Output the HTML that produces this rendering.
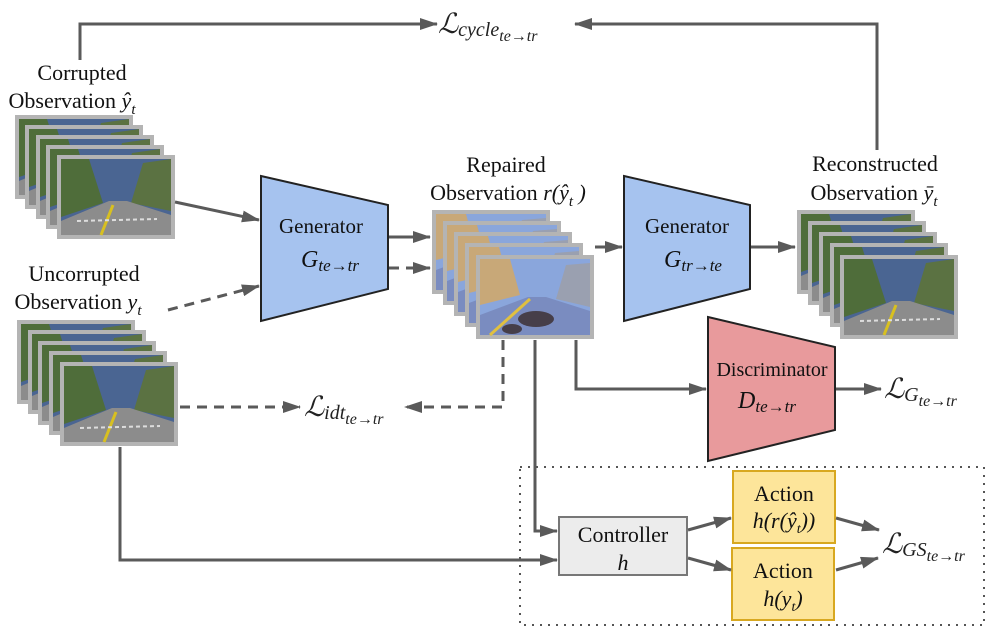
<!DOCTYPE html>
<html><head><style>
html,body{margin:0;padding:0;background:#fff;}
svg, svg text{font-family:"Liberation Serif","Times New Roman",serif;}
</style></head><body>
<svg width="987" height="637" viewBox="0 0 987 637" xmlns="http://www.w3.org/2000/svg" font-family="Liberation Serif, serif">
<defs>
<g id="fn">
<rect x="0" y="0" width="118" height="84" fill="#b4b4b4"/>
<rect x="4" y="4" width="110" height="76" fill="#4a6592"/>
<polygon points="4,4 32,4 46,48 4,62" fill="#4f6d3a"/>
<polygon points="114,4 86,8 74,48 114,56" fill="#5b7242"/>
<polygon points="4,80 114,80 114,60 70,46 52,46 4,66" fill="#8c8c8c"/>
<line x1="44" y1="80" x2="56" y2="50" stroke="#d8c020" stroke-width="3"/>
<line x1="20" y1="66" x2="100" y2="64" stroke="#ddd" stroke-width="2" stroke-dasharray="4 3"/>
</g>
<g id="fr">
<rect x="0" y="0" width="118" height="84" fill="#b4b4b4"/>
<rect x="4" y="4" width="110" height="76" fill="#8aa6dc"/>
<polygon points="4,4 34,4 44,40 4,50" fill="#c8a878"/>
<polygon points="114,8 90,10 80,44 114,52" fill="#9aa0b0"/>
<polygon points="4,80 114,80 114,56 70,42 52,42 4,60" fill="#7a8cc0"/>
<line x1="14" y1="80" x2="54" y2="44" stroke="#e0c040" stroke-width="3"/>
<ellipse cx="60" cy="64" rx="18" ry="8" fill="#3a2a2a" opacity="0.8"/>
<ellipse cx="36" cy="74" rx="10" ry="5" fill="#3a2a2a" opacity="0.8"/>
</g>
<marker id="ah2" markerWidth="18" markerHeight="12" refX="17" refY="6" orient="auto" markerUnits="userSpaceOnUse">
<path d="M0,0 L18,6 L0,12 z" fill="#5a5a5a"/>
</marker>
</defs>

<use href="#fn" x="15" y="115"/><use href="#fn" x="25" y="125"/><use href="#fn" x="36" y="135"/><use href="#fn" x="46" y="145"/><use href="#fn" x="57" y="155"/>
<use href="#fn" x="17" y="320"/><use href="#fn" x="28" y="330"/><use href="#fn" x="38" y="341"/><use href="#fn" x="49" y="351"/><use href="#fn" x="60" y="362"/>
<use href="#fr" x="432" y="210"/><use href="#fr" x="443" y="221"/><use href="#fr" x="454" y="232"/><use href="#fr" x="465" y="243"/><use href="#fr" x="476" y="255"/>
<use href="#fn" x="797" y="210"/><use href="#fn" x="808" y="221"/><use href="#fn" x="819" y="232"/><use href="#fn" x="830" y="243"/><use href="#fn" x="840" y="255"/>

<polygon points="261,176 388,205 388,289 261,321" fill="#a6c3ef" stroke="#222" stroke-width="2"/>
<polygon points="624,176 750,205 750,289 624,321" fill="#a6c3ef" stroke="#222" stroke-width="2"/>
<polygon points="708,317 835,347 835,430 708,461" fill="#e89a9c" stroke="#222" stroke-width="2"/>
<rect x="559" y="517" width="128" height="58" fill="#ececec" stroke="#777" stroke-width="2"/>
<rect x="733" y="471" width="102" height="72" fill="#fde59a" stroke="#d8a820" stroke-width="2"/>
<rect x="732" y="548" width="102" height="72" fill="#fde59a" stroke="#d8a820" stroke-width="2"/>
<rect x="520" y="467" width="464" height="158" fill="none" stroke="#555" stroke-width="2" stroke-dasharray="2 6"/>

<g stroke="#5a5a5a" stroke-width="3" fill="none">
<polyline points="80,60 80,24 437,24" marker-end="url(#ah2)"/>
<polyline points="877,150 877,24 575,24" marker-end="url(#ah2)"/>
<line x1="175" y1="202" x2="259" y2="220" marker-end="url(#ah2)"/>
<line x1="168" y1="310" x2="259" y2="286" stroke-dasharray="10 7" marker-end="url(#ah2)"/>
<line x1="389" y1="237" x2="430" y2="237" marker-end="url(#ah2)"/>
<line x1="389" y1="268" x2="430" y2="268" stroke-dasharray="10 7" marker-end="url(#ah2)"/>
<line x1="595" y1="247" x2="622" y2="247" marker-end="url(#ah2)"/>
<line x1="751" y1="247" x2="795" y2="247" marker-end="url(#ah2)"/>
<line x1="180" y1="407" x2="300" y2="407" stroke-dasharray="10 7" marker-end="url(#ah2)"/>
<polyline points="503,340 503,407 405,407" stroke-dasharray="10 7" marker-end="url(#ah2)"/>
<polyline points="576,340 576,389 706,389" marker-end="url(#ah2)"/>
<line x1="836" y1="389" x2="881" y2="389" marker-end="url(#ah2)"/>
<polyline points="535,340 535,531 557,531" marker-end="url(#ah2)"/>
<polyline points="120,447 120,560 557,560" marker-end="url(#ah2)"/>
<line x1="688" y1="530" x2="731" y2="518" marker-end="url(#ah2)"/>
<line x1="688" y1="558" x2="731" y2="570" marker-end="url(#ah2)"/>
<line x1="836" y1="518" x2="879" y2="530" marker-end="url(#ah2)"/>
<line x1="836" y1="570" x2="878" y2="558" marker-end="url(#ah2)"/>
</g>

<g font-size="22" fill="#111" text-anchor="middle" font-family="Liberation Serif, serif">
<text x="82" y="80">Corrupted</text>
<text x="72" y="108">Observation <tspan font-style="italic">ŷ</tspan><tspan font-style="italic" font-size="15" dy="6">t</tspan></text>
<text x="84" y="281">Uncorrupted</text>
<text x="78" y="309">Observation <tspan font-style="italic">y</tspan><tspan font-style="italic" font-size="15" dy="6">t</tspan></text>
<text x="506" y="172">Repaired</text>
<text x="508" y="200">Observation <tspan font-style="italic">r(ŷ</tspan><tspan font-style="italic" font-size="15" dy="6">t</tspan><tspan font-style="italic" dy="-6"> )</tspan></text>
<text x="875" y="171">Reconstructed</text>
<text x="874" y="200">Observation <tspan font-style="italic">ȳ</tspan><tspan font-style="italic" font-size="15" dy="6">t</tspan></text>
<text x="321" y="233" font-size="21">Generator</text>
<text x="330" y="267" font-style="italic" font-size="24">G<tspan font-size="17" dy="4">te→tr</tspan></text>
<text x="687" y="233" font-size="21">Generator</text>
<text x="693" y="267" font-style="italic" font-size="24">G<tspan font-size="17" dy="4">tr→te</tspan></text>
<text x="772" y="376" font-size="20">Discriminator</text>
<text x="767" y="408" font-style="italic" font-size="24">D<tspan font-size="17" dy="4">te→tr</tspan></text>
<text x="623" y="542">Controller</text>
<text x="623" y="570" font-style="italic">h</text>
<text x="784" y="501">Action</text>
<text x="784" y="528" font-style="italic">h(r(ŷ<tspan font-size="14" dy="5">t</tspan><tspan dy="-5">))</tspan></text>
<text x="783" y="578">Action</text>
<text x="783" y="606" font-style="italic">h(y<tspan font-size="14" dy="5">t</tspan><tspan dy="-5">)</tspan></text>
</g>
<g font-size="28" fill="#222" font-style="italic" font-family="Liberation Serif, serif">
<text x="438" y="33">ℒ<tspan font-size="20" dy="3">cycle</tspan><tspan font-size="16" dy="5">te→tr</tspan></text>
<text x="304" y="416">ℒ<tspan font-size="20" dy="3">idt</tspan><tspan font-size="16" dy="5">te→tr</tspan></text>
<text x="884" y="398">ℒ<tspan font-size="20" dy="3">G</tspan><tspan font-size="16" dy="5">te→tr</tspan></text>
<text x="882" y="553">ℒ<tspan font-size="20" dy="3">GS</tspan><tspan font-size="16" dy="5">te→tr</tspan></text>
</g>
</svg>
</body></html>
